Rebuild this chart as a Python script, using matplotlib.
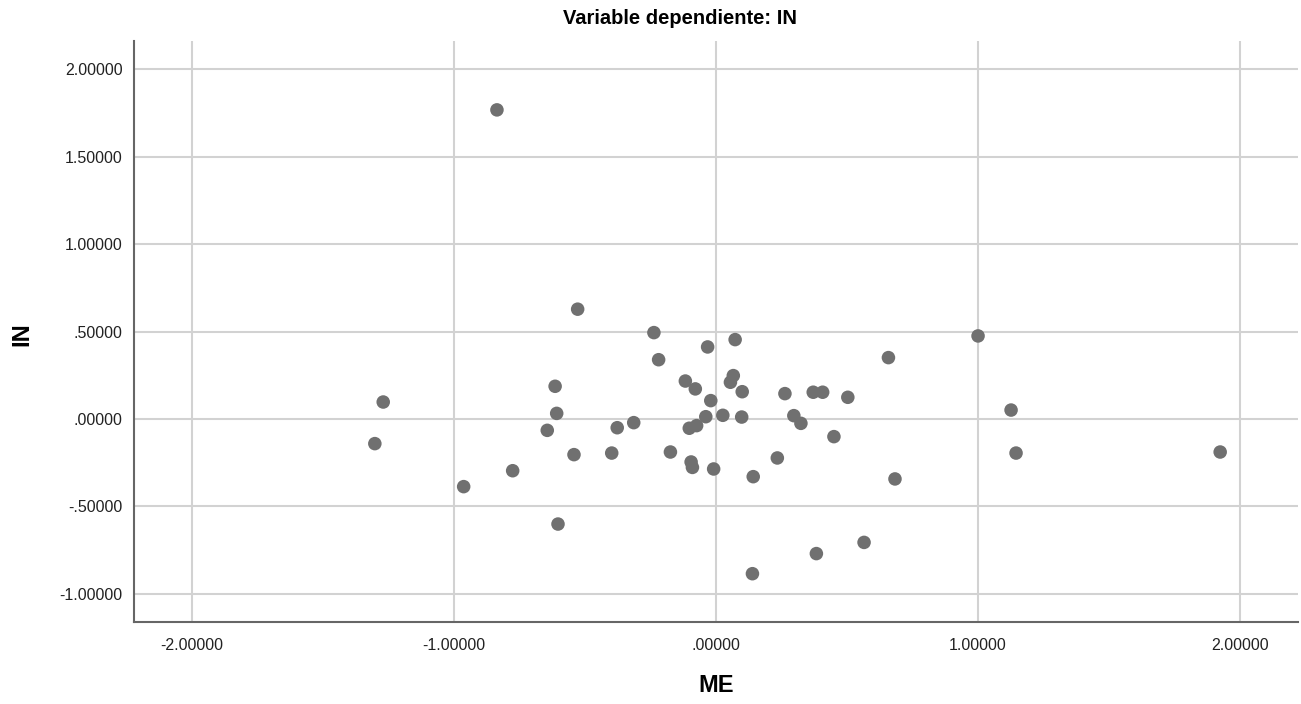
import matplotlib
matplotlib.use("Agg")
import matplotlib.pyplot as plt
from matplotlib.ticker import FuncFormatter

plt.rcParams['font.family'] = ['Liberation Sans', 'DejaVu Sans']

me = [-0.528, -0.237, 0.073, -0.032, -0.219, 0.658, -0.614, -0.117, -0.079, 0.066,
      0.055, 0.100, 0.263, 0.371, 0.407, 0.503, -0.020, -0.608, -0.039, 0.026,
      0.098, 0.297, 0.324, -0.644, -0.377, -0.314, -0.102, -0.074, 0.450, -0.542,
      -0.398, -0.174, -0.095, -0.090, -0.009, 0.142, 0.683, -0.776, 0.234, 0.383,
      0.565, 0.139, -1.270, -1.302, -0.963, -0.836, -0.603, 1.000, 1.126, 1.145,
      1.924]
in_ = [0.628, 0.494, 0.454, 0.412, 0.339, 0.351, 0.187, 0.217, 0.172, 0.248,
       0.210, 0.156, 0.145, 0.153, 0.153, 0.124, 0.105, 0.032, 0.013, 0.021,
       0.011, 0.019, -0.025, -0.065, -0.050, -0.021, -0.053, -0.038, -0.101, -0.204,
       -0.195, -0.189, -0.246, -0.277, -0.286, -0.330, -0.343, -0.296, -0.223, -0.770,
       -0.706, -0.885, 0.097, -0.141, -0.387, 1.768, -0.601, 0.475, 0.051, -0.195,
       -0.189]

x_ticks = [-2.0, -1.0, 0.0, 1.0, 2.0]
y_ticks = [-1.0, -0.5, 0.0, 0.5, 1.0, 1.5, 2.0]

def spss_fmt(v, pos=None):
    s = "%.5f" % v
    if s.startswith("0."):
        s = s[1:]
    elif s.startswith("-0."):
        s = "-" + s[2:]
    return s

fig = plt.figure(figsize=(13.01, 7.04), dpi=100)
ax = fig.add_axes([133.5/1301, 1 - 621.6/704, (1298-133.5)/1301, (621.6-41)/704])

ax.scatter(me, in_, s=95, color='#707070', edgecolors='none', zorder=3)

ax.set_xlim(-2.223, 2.221)
ax.set_ylim(-1.159, 2.162)
ax.set_xticks(x_ticks)
ax.set_yticks(y_ticks)
ax.xaxis.set_major_formatter(FuncFormatter(spss_fmt))
ax.yaxis.set_major_formatter(FuncFormatter(spss_fmt))
ax.tick_params(length=0, labelsize=11.5, colors='#222222', pad=8)
ax.tick_params(axis='x', pad=12)

ax.grid(True, color='#d2d2d2', linewidth=1.5, zorder=0)
ax.set_axisbelow(True)
for side in ['top', 'right']:
    ax.spines[side].set_visible(False)
for side in ['left', 'bottom']:
    ax.spines[side].set_color('#666666')
    ax.spines[side].set_linewidth(1.5)

fig.text(680/1301, 1 - 18/704, "Variable dependiente: IN", ha='center', va='center',
         fontsize=14.5, fontweight='bold')
fig.text(716/1301, 1 - 686/704, "ME", ha='center', va='center',
         fontsize=17, fontweight='bold')
fig.text(22/1301, 1 - 334/704, "IN", ha='center', va='center', rotation=90,
         fontsize=17, fontweight='bold')

fig.savefig("out.png", dpi=100)
